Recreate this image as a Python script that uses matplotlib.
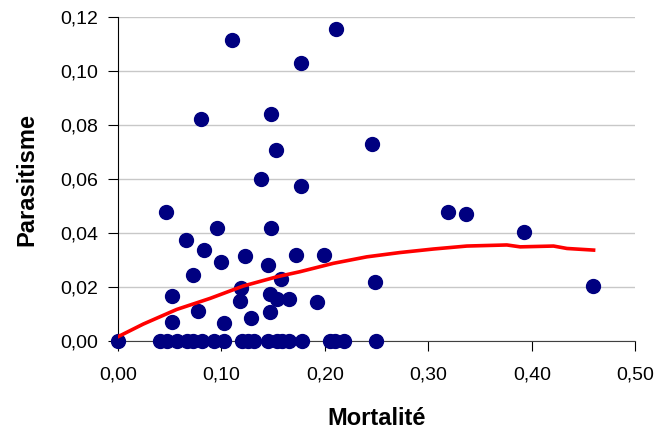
import matplotlib
matplotlib.use('Agg')
import matplotlib.pyplot as plt
from matplotlib.ticker import FuncFormatter

# Nuage de points (mortalité, parasitisme)
mortalite = [0.0, 0.046, 0.0655, 0.0832, 0.0954, 0.0996, 0.0722, 0.0525, 0.0525,
             0.0777, 0.1022, 0.1231, 0.119, 0.1177, 0.1286, 0.1386, 0.148, 0.1454,
             0.1573, 0.1473, 0.1535, 0.1657, 0.1467, 0.1773, 0.1718, 0.1995, 0.1925,
             0.2488, 0.11, 0.2105, 0.177, 0.0806, 0.148, 0.1525, 0.2453,
             0.3188, 0.3366, 0.392, 0.4587]
parasitisme = [0.0, 0.0479, 0.0373, 0.0336, 0.042, 0.0294, 0.0244, 0.0166, 0.007,
               0.0112, 0.0066, 0.0314, 0.0195, 0.0149, 0.0086, 0.0601, 0.042, 0.0283,
               0.0231, 0.0173, 0.0154, 0.0156, 0.0107, 0.0574, 0.032, 0.032, 0.0146,
               0.022, 0.1115, 0.1157, 0.1031, 0.0823, 0.084, 0.0707, 0.073,
               0.0479, 0.0469, 0.0405, 0.0204]

# points sur zéro
mortalite_zero = [0.0406, 0.047, 0.0574, 0.0664, 0.0729, 0.081, 0.0931, 0.1022,
                  0.1196, 0.126, 0.1315, 0.1454, 0.1535, 0.1583, 0.1657, 0.1783,
                  0.205, 0.21, 0.218, 0.249]

# courbe de tendance (rouge)
tend_x = [0.0, 0.0245, 0.0567, 0.089, 0.1212, 0.1535, 0.176, 0.2082, 0.2405,
          0.2727, 0.3049, 0.3372, 0.3759, 0.3888, 0.421, 0.434, 0.4597]
tend_y = [0.0016, 0.0063, 0.0117, 0.0158, 0.0204, 0.0238, 0.0257, 0.0288, 0.0312,
          0.0328, 0.0341, 0.0352, 0.0356, 0.0349, 0.0352, 0.0343, 0.0337]

plt.rcParams['font.family'] = ['Liberation Sans', 'DejaVu Sans']

fig = plt.figure(figsize=(6.59, 4.29), dpi=100)
ax = fig.add_axes([0.179, 0.205, 0.785, 0.755])

ax.scatter(mortalite, parasitisme, s=100, color='#000080', zorder=3, clip_on=False)
ax.scatter(mortalite_zero, [0] * len(mortalite_zero), s=100, color='#000080',
           zorder=3, clip_on=False)
ax.plot(tend_x, tend_y, color='#ff0000', lw=2.6, zorder=4)

ax.set_xlim(0, 0.5)
ax.set_ylim(0, 0.12)
ax.set_xticks([0, 0.1, 0.2, 0.3, 0.4, 0.5])
ax.set_yticks([0, 0.02, 0.04, 0.06, 0.08, 0.10, 0.12])
fmt = FuncFormatter(lambda v, p: ('%.2f' % v).replace('.', ','))
ax.xaxis.set_major_formatter(fmt)
ax.yaxis.set_major_formatter(fmt)

ax.grid(True, axis='y', color='#c8c8c8', lw=1)
ax.set_axisbelow(True)
ax.spines['top'].set_visible(False)
ax.spines['right'].set_visible(False)
ax.spines['left'].set_color('black')
ax.spines['bottom'].set_color('#404040')
ax.tick_params(axis='both', direction='out', length=7, labelsize=14)
ax.tick_params(axis='x', pad=11)
ax.tick_params(axis='y', pad=7)

ax.set_xlabel('Mortalité', fontsize=17, fontweight='bold', labelpad=17)
ax.set_ylabel('Parasitisme', fontsize=17, fontweight='bold', labelpad=16)

plt.savefig('out.png', dpi=100)
